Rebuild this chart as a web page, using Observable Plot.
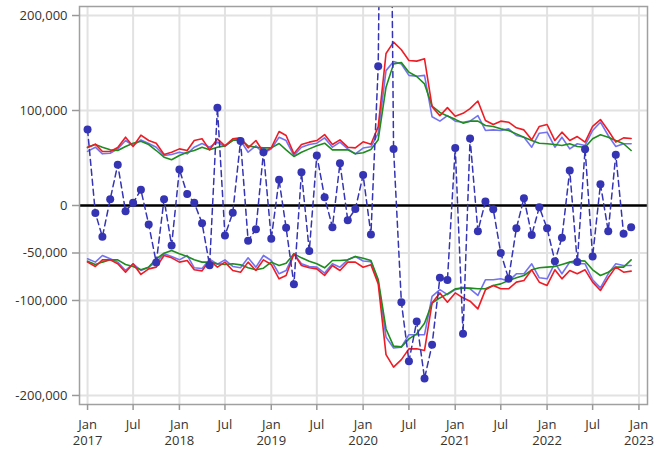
<!DOCTYPE html>
<html>
<head>
<meta charset="utf-8">
<script src="https://cdn.jsdelivr.net/npm/d3@7"></script>
<script src="https://cdn.jsdelivr.net/npm/@observablehq/plot@0.6"></script>
<style>
  html, body { margin: 0; padding: 0; background: #ffffff; }
  #chart svg { display: block; }
</style>
</head>
<body>
<div id="chart"></div>
<script>
// Monthly observations, Jan 2017 .. Dec 2022 (72 months)
const startMonth = "2017-01-01";
const endMonth = "2023-01-01";

const observed = [
  80000, -8000, -33000, 6600, 43000, -6000, 2800, 16500, -20000, -60000, 6600, -42000,
  38000, 12000, 2800, -18600, -63000, 103000, -31600, -7700, 68000, -37000, -25000, 56000,
  -35000, 27000, -23500, -83000, 35000, -48000, 52600, 8800, -22800, 44600, -15400, -3800,
  32000, -30500, 146700, 900000, 59600, -101800, -164000, -122000, -182000, -146600, -76000, -78500,
  60500, -135000, 70500, -27000, 4200, -3900, -50000, -77000, -24000, 7700, -31000, -1800,
  -24000, -58600, -34000, 36800, -59600, 59300, -53700, 22500, -27000, 53300, -29800, -22800
];

const redUpper = [
  61000, 64600, 56900, 56900, 61000, 71900, 62100, 74000, 68400, 65600, 53700, 56100,
  59600, 57900, 68400, 70200, 58600, 70200, 62800, 70200, 71200, 60700, 68400, 56100,
  60700, 77900, 73700, 54400, 64200, 66700, 68400, 74700, 64200, 69100, 61400, 60700,
  67000, 64500, 83000, 160000, 172000, 164000, 152600, 152000, 154400, 104000, 94500, 103000,
  94000, 97000, 102000, 110000, 89500, 85300, 88800, 87700, 81800, 79600, 69100, 83200,
  85300, 68400, 77200, 68400, 72600, 66700, 83200, 90500, 79000, 66700, 71200, 70500
];
const blueUpper = [
  57000, 61400, 54400, 55000, 59600, 68400, 63000, 69000, 65300, 61400, 52600, 53700,
  56100, 54400, 61400, 65300, 61400, 66700, 62100, 69100, 68400, 56100, 62800, 55000,
  59600, 71900, 68400, 52600, 61400, 64200, 65600, 71200, 61400, 66700, 59600, 54400,
  60500, 61800, 76300, 142000, 151600, 149000, 137000, 136000, 137000, 93400, 88800, 94700,
  88800, 87700, 88800, 94700, 79000, 79600, 79000, 80700, 73700, 71900, 61400, 76100,
  77200, 61400, 71900, 59600, 65000, 63200, 79000, 87700, 73700, 62100, 65000, 65000
];
const greenUpper = [
  61400, 64200, 61400, 58600, 57900, 62100, 65600, 67700, 64200, 57900, 50900, 48100,
  52600, 56100, 57900, 61400, 58600, 61400, 62800, 68400, 69800, 62800, 61400, 60700,
  60700, 65300, 58600, 51600, 56100, 59600, 62800, 65600, 58600, 58600, 58600, 54400,
  55500, 59000, 69300, 124600, 149100, 150500, 140400, 135800, 128000, 104500, 98000, 94200,
  90700, 86700, 88800, 88800, 84200, 83200, 80700, 79000, 75400, 71900, 68400, 65600,
  65000, 64200, 63200, 65000, 62100, 61400, 70200, 74400, 71900, 68400, 65000, 57900
];
const redLower = [
  -59600, -64200, -57200, -57200, -61400, -70200, -61400, -72600, -66700, -64900, -52600, -55100,
  -59600, -57900, -67700, -68800, -57900, -64900, -59600, -68400, -70200, -59600, -68400, -57200,
  -62100, -77200, -73700, -50900, -63200, -65600, -66700, -73700, -63200, -68400, -59600, -59600,
  -65000, -62300, -82500, -157000, -170200, -162300, -150900, -150900, -152600, -102600, -92000, -101800,
  -92000, -97200, -100700, -108800, -88800, -84200, -87700, -87700, -80700, -78900, -67700, -80700,
  -84200, -67700, -77200, -68400, -71900, -67700, -80700, -89500, -76100, -64900, -70200, -69100
];
const blueLower = [
  -56100, -59600, -52600, -56100, -59600, -68400, -61400, -68400, -64900, -59600, -50900, -53700,
  -57200, -52600, -65600, -66300, -56500, -61800, -57200, -64200, -65600, -55100, -64900, -52600,
  -57900, -71900, -68400, -50900, -61400, -64200, -64900, -71200, -61400, -64900, -57200, -53700,
  -58400, -59100, -79800, -138600, -150000, -149100, -136000, -136000, -136000, -95600, -88600, -93900,
  -88600, -86000, -87700, -94700, -78200, -78200, -77200, -79600, -71900, -71900, -61400, -76100,
  -77200, -60700, -71900, -59600, -61400, -61400, -78200, -86700, -71900, -61400, -63200, -63200
];
const greenLower = [
  -58600, -62100, -59600, -57200, -57200, -62100, -64200, -67700, -64900, -56100, -50200, -47400,
  -50900, -53700, -57200, -59600, -59600, -61400, -62100, -61400, -62500, -65500, -67700, -66000,
  -59600, -63200, -60700, -50900, -55100, -58600, -61400, -65600, -57900, -57900, -57200, -53700,
  -55600, -57900, -78000, -130000, -148000, -148800, -140400, -135100, -124000, -102600, -97300, -93000,
  -87800, -87000, -87000, -87700, -87700, -84200, -82500, -78900, -76100, -73700, -67700, -65600,
  -64900, -64200, -62100, -59600, -57900, -58600, -67700, -73700, -70200, -64900, -64900, -57200
];

const yTicks = [-200000, -100000, -50000, 0, 100000, 200000];
const xTicks = ["2017-01-01","2017-07-01","2018-01-01","2018-07-01","2019-01-01","2019-07-01",
  "2020-01-01","2020-07-01","2021-01-01","2021-07-01","2022-01-01","2022-07-01","2023-01-01"];
const xDomain = ["2016-11-30", "2023-02-04"];
const yDomain = [-209500, 209500];

const months = d3.utcMonths(new Date(startMonth), new Date(endMonth));
const rows = months.map((d, i) => ({
  date: d, observed: observed[i],
  redUpper: redUpper[i], blueUpper: blueUpper[i], greenUpper: greenUpper[i],
  redLower: redLower[i], blueLower: blueLower[i], greenLower: greenLower[i]
}));

const xTickDates = xTicks.map(s => new Date(s));
const fmtX = d => d.getUTCMonth() === 0 ? `Jan\n${d.getUTCFullYear()}` : "Jul";
const fmtY = d => d.toLocaleString("en-US");

const RED = "#ee1c25", BLUE = "#7373f2", GREEN = "#1e8c1e", DOT = "#3434b4";

const lineSeries = [
  ["blueUpper", BLUE], ["greenUpper", GREEN], ["redUpper", RED],
  ["blueLower", BLUE], ["greenLower", GREEN], ["redLower", RED]
];

const chart = Plot.plot({
  width: 661,
  height: 455,
  marginLeft: 79,
  marginRight: 14,
  marginTop: 6,
  marginBottom: 51,
  style: {fontFamily: "'Open Sans', 'Noto Sans', sans-serif", fontSize: "13px", background: "#ffffff", color: "#333"},
  x: {type: "utc", domain: xDomain.map(s => new Date(s))},
  y: {domain: yDomain},
  marks: [
    Plot.gridX(xTickDates, {stroke: "#e2e2e2", strokeOpacity: 1, strokeWidth: 2}),
    Plot.gridY(yTicks, {stroke: "#e2e2e2", strokeOpacity: 1, strokeWidth: 2}),
    Plot.ruleY([0], {stroke: "#000", strokeWidth: 2.5}),
    ...lineSeries.map(([key, color]) =>
      Plot.line(rows, {x: "date", y: key, stroke: color, strokeWidth: 1.6, clip: true})),
    Plot.line(rows, {x: "date", y: "observed", stroke: DOT, strokeWidth: 1.5, strokeDasharray: "6,4", clip: true}),
    Plot.dot(rows, {x: "date", y: "observed", r: 4, fill: DOT, stroke: "none", clip: true}),
    Plot.frame({stroke: "#a0a0a0", strokeWidth: 1.5}),
    Plot.axisX(xTickDates, {tickSize: 6, text: null, stroke: "#999", strokeWidth: 1.5}),
    Plot.axisX(xTickDates, {tickSize: 0, tickPadding: 12, tickFormat: fmtX, fill: "#333", lineHeight: 1.3, fontSize: 13}),
    Plot.axisY(yTicks, {tickSize: 7, text: null, stroke: "#999", strokeWidth: 1.5}),
    Plot.axisY(yTicks, {tickSize: 0, tickPadding: 12, tickFormat: fmtY, fill: "#333", fontSize: 13})
  ]
});
document.getElementById("chart").appendChild(chart);
</script>
</body>
</html>
